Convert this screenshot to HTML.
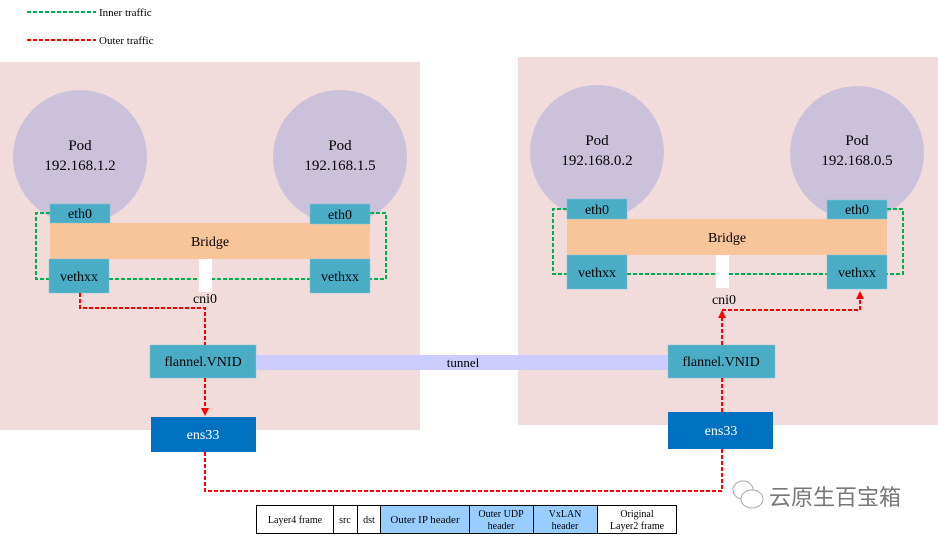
<!DOCTYPE html>
<html><head><meta charset="utf-8"><style>
html,body{margin:0;padding:0;background:#fff;}
svg{display:block;font-family:"Liberation Serif",serif;}
</style></head><body>
<svg width="938" height="539" viewBox="0 0 938 539" xmlns="http://www.w3.org/2000/svg">
<defs>
<marker id="ar" markerWidth="8" markerHeight="8" refX="4" refY="4" orient="auto" markerUnits="userSpaceOnUse"><path d="M0,0 L8,4 L0,8 z" fill="#f00"/></marker>
</defs>
<line x1="27" y1="12" x2="96" y2="12" stroke="#00b050" stroke-width="2" stroke-dasharray="4,2"/>
<text x="99" y="16" font-size="11">Inner traffic</text>
<line x1="27" y1="40" x2="96" y2="40" stroke="#f00" stroke-width="2" stroke-dasharray="4,2"/>
<text x="99" y="44" font-size="11">Outer traffic</text>
<rect x="0" y="62" width="420" height="368" fill="#f2dcdb"/>
<rect x="518" y="57" width="420" height="368" fill="#f2dcdb"/>
<g fill="#ccc1da">
<circle cx="80" cy="157" r="67"/><circle cx="340" cy="157" r="67"/>
<circle cx="597" cy="152" r="67"/><circle cx="857" cy="153" r="67"/>
</g>
<g font-size="15" text-anchor="middle" fill="#000">
<text x="80" y="150">Pod</text><text x="80" y="170">192.168.1.2</text>
<text x="340" y="150">Pod</text><text x="340" y="170">192.168.1.5</text>
<text x="597" y="145">Pod</text><text x="597" y="165">192.168.0.2</text>
<text x="857" y="145">Pod</text><text x="857" y="165">192.168.0.5</text>
</g>
<g fill="none" stroke="#00b050" stroke-width="2" stroke-dasharray="4,2">
<polyline points="50,213 36,213 36,279 50,279"/>
<line x1="109" y1="279" x2="310" y2="279"/>
<polyline points="370,213 386,213 386,279 370,279"/>
<polyline points="567,209 553,209 553,274 567,274"/>
<line x1="627" y1="274" x2="827" y2="274"/>
<polyline points="887,209 903,209 903,274 887,274"/>
</g>
<rect x="50" y="223" width="320" height="36" fill="#f8c59b"/>
<rect x="567" y="219" width="320" height="36" fill="#f8c59b"/>
<g fill="#4bacc6" stroke="#7fc4d6" stroke-width="0.5">
<rect x="50" y="204" width="60" height="19"/><rect x="310" y="204" width="60" height="20"/>
<rect x="49" y="259" width="60" height="34"/><rect x="310" y="259" width="60" height="34"/>
<rect x="567" y="199" width="60" height="20"/><rect x="827" y="200" width="60" height="19"/>
<rect x="567" y="255" width="60" height="34"/><rect x="827" y="255" width="60" height="34"/>
<rect x="150" y="345" width="106" height="33"/><rect x="668" y="345" width="107" height="33"/>
</g>
<rect x="199" y="259" width="13" height="33" fill="#fff"/>
<rect x="716" y="255" width="13" height="33" fill="#fff"/>
<g font-size="14" text-anchor="middle" fill="#000">
<text x="80" y="218">eth0</text><text x="340" y="219">eth0</text>
<text x="210" y="246">Bridge</text>
<text x="79" y="281">vethxx</text><text x="340" y="281">vethxx</text>
<text x="205" y="303">cni0</text>
<text x="597" y="214">eth0</text><text x="857" y="214">eth0</text>
<text x="727" y="242">Bridge</text>
<text x="597" y="277">vethxx</text><text x="857" y="277">vethxx</text>
<text x="724" y="304">cni0</text>
<text x="203" y="366">flannel.VNID</text><text x="721" y="366">flannel.VNID</text>
</g>
<rect x="256" y="355" width="412" height="15" fill="#ccccff"/>
<text x="463" y="367" font-size="13" text-anchor="middle">tunnel</text>
<rect x="151" y="417" width="105" height="35" fill="#0070c0"/>
<rect x="668" y="412" width="105" height="37" fill="#0070c0"/>
<text x="203" y="439" font-size="14" fill="#fff" text-anchor="middle">ens33</text>
<text x="721" y="435" font-size="14" fill="#fff" text-anchor="middle">ens33</text>
<g fill="none" stroke="#f00" stroke-width="2" stroke-dasharray="4,2">
<polyline points="80,293 80,308 205,308 205,345"/>
<polyline points="205,378 205,412" marker-end="url(#ar)"/>
<polyline points="205,452 205,491 722,491 722,449"/>
<line x1="722" y1="412" x2="722" y2="378"/>
<polyline points="722,345 722,314" marker-end="url(#ar)"/>
<polyline points="722,310 860,310 860,295" marker-end="url(#ar)"/>
</g>
<g stroke="#000" stroke-width="1">
<rect x="256.5" y="505.5" width="77" height="28" fill="#fff"/>
<rect x="333.5" y="505.5" width="24" height="28" fill="#fff"/>
<rect x="357.5" y="505.5" width="23" height="28" fill="#fff"/>
<rect x="380.5" y="505.5" width="89" height="28" fill="#99ccff"/>
<rect x="469.5" y="505.5" width="64" height="28" fill="#99ccff"/>
<rect x="533.5" y="505.5" width="64" height="28" fill="#99ccff"/>
<rect x="597.5" y="505.5" width="79" height="28" fill="#fff"/>
</g>
<g font-size="10" text-anchor="middle" fill="#000">
<text x="295" y="523">Layer4 frame</text>
<text x="345" y="523">src</text>
<text x="369" y="523">dst</text>
<text x="425" y="523" font-size="11">Outer IP header</text>
<text x="501" y="517">Outer UDP</text><text x="501" y="529">header</text>
<text x="565" y="517">VxLAN</text><text x="565" y="529">header</text>
<text x="637" y="517">Original</text><text x="637" y="529">Layer2 frame</text>
</g>
<g fill="#fff" stroke="#aaa" stroke-width="1">
<ellipse cx="743" cy="490" rx="10" ry="9"/>
<ellipse cx="752" cy="499" rx="11" ry="9"/>
</g>
<text x="769" y="505" font-size="22" fill="#777" font-family="'Liberation Sans','Noto Sans CJK SC',sans-serif">云原生百宝箱</text>
</svg>
</body></html>
